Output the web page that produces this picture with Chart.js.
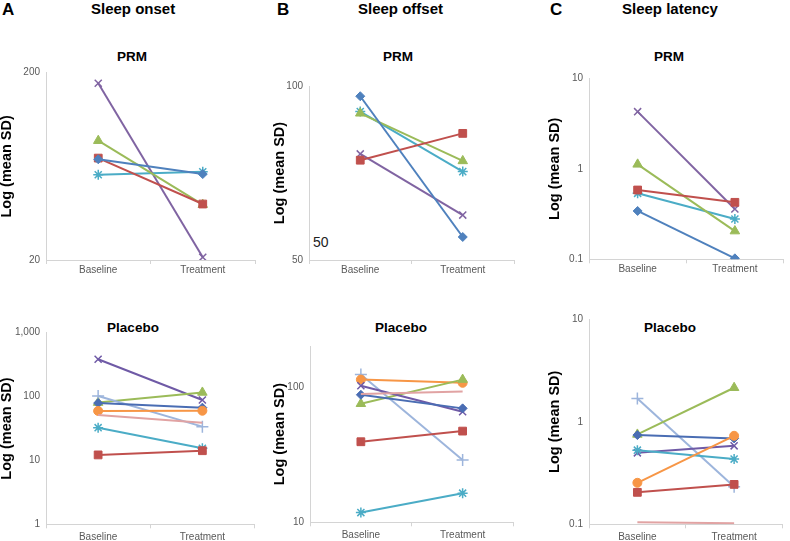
<!DOCTYPE html>
<html>
<head>
<meta charset="utf-8">
<script src="https://cdn.jsdelivr.net/npm/chart.js@4/dist/chart.umd.min.js"></script>
<style>
  html, body { margin: 0; padding: 0; background: #fff; }
  body { width: 790px; height: 541px; position: relative; overflow: hidden;
         font-family: "Liberation Sans", Arial, sans-serif; }
  canvas { position: absolute; }
  .t { position: absolute; white-space: nowrap; color: #000; font-weight: bold; line-height: 1; }
  .h { font-size: 15px; }
  .letter { font-size: 17px; }
  .sub { font-size: 13.5px; transform: translateX(-50%); }
  .stray { position: absolute; font-size: 14px; color: #222; line-height: 1; }
</style>
</head>
<body>
<div class="t letter" style="left:2px;top:1px;">A</div>
<div class="t h" style="left:91px;top:1px;">Sleep onset</div>
<div class="t letter" style="left:277px;top:1px;">B</div>
<div class="t h" style="left:358px;top:1px;">Sleep offset</div>
<div class="t letter" style="left:550px;top:1px;">C</div>
<div class="t h" style="left:622px;top:1px;">Sleep latency</div>

<div class="t sub" style="left:132px;top:50px;">PRM</div>
<div class="t sub" style="left:398px;top:50px;">PRM</div>
<div class="t sub" style="left:669px;top:50px;">PRM</div>
<div class="t sub" style="left:133px;top:321px;">Placebo</div>
<div class="t sub" style="left:401px;top:321px;">Placebo</div>
<div class="t sub" style="left:670px;top:321px;">Placebo</div>
<div class="stray" style="left:313px;top:235px;">50</div>

<canvas id="cA1" width="262" height="222" style="left:0px;top:60px;"></canvas>
<canvas id="cB1" width="250" height="222" style="left:271px;top:60px;"></canvas>
<canvas id="cC1" width="242" height="222" style="left:548px;top:60px;"></canvas>
<canvas id="cA2" width="262" height="241" style="left:0px;top:300px;"></canvas>
<canvas id="cB2" width="250" height="241" style="left:271px;top:300px;"></canvas>
<canvas id="cC2" width="242" height="241" style="left:548px;top:300px;"></canvas>

<script>
// ---------- DATA ----------
const categories = ['Baseline', 'Treatment'];

// Tick labels per panel
const onsetPRMTicks = [20, 200];
const offsetPRMTicks = [50, 100];
const latencyPRMTicks = [0.1, 1, 10];
const onsetPlaceboTicks = [1, 10, 100, 1000];
const offsetPlaceboTicks = [10, 100];
const latencyPlaceboTicks = [0.1, 1, 10];

// A: Sleep onset, PRM
const onsetPRM_diamond  = [69, 57.5];
const onsetPRM_square   = [70, 39.8];
const onsetPRM_triangle = [86.7, 39.5];
const onsetPRM_x        = [175.6, 20.7];
const onsetPRM_star     = [57, 59.2];

// B: Sleep offset, PRM
const offsetPRM_diamond  = [96, 54.8];
const offsetPRM_square   = [74.4, 82.8];
const offsetPRM_triangle = [89.7, 74.2];
const offsetPRM_x        = [76.3, 59.8];
const offsetPRM_star     = [90.3, 71.1];

// C: Sleep latency, PRM
const latencyPRM_diamond  = [0.342, 0.1025];
const latencyPRM_square   = [0.583, 0.426];
const latencyPRM_triangle = [1.12, 0.205];
const latencyPRM_x        = [4.28, 0.36];
const latencyPRM_star     = [0.536, 0.279];

// A: Sleep onset, Placebo
const onsetPlacebo_diamond  = [79, 67];
const onsetPlacebo_square   = [12.2, 14.2];
const onsetPlacebo_triangle = [80.4, 116];
const onsetPlacebo_x        = [384, 88.5];
const onsetPlacebo_star     = [32.6, 15.5];
const onsetPlacebo_circle   = [59.6, 60];
const onsetPlacebo_plus     = [102, 33.8];
const onsetPlacebo_line     = [51.5, 39];

// B: Sleep offset, Placebo
const offsetPlacebo_diamond  = [87.3, 69.3];
const offsetPlacebo_square   = [39.3, 47.1];
const offsetPlacebo_triangle = [75, 113];
const offsetPlacebo_x        = [101.7, 65.5];
const offsetPlacebo_star     = [11.8, 16.4];
const offsetPlacebo_circle   = [113, 107];
const offsetPlacebo_plus     = [123, 28.8];
const offsetPlacebo_line     = [88.3, 92.5];

// C: Sleep latency, Placebo
const latencyPlacebo_diamond  = [0.742, 0.689];
const latencyPlacebo_square   = [0.205, 0.245];
const latencyPlacebo_triangle = [0.753, 2.15];
const latencyPlacebo_x        = [0.498, 0.583];
const latencyPlacebo_star     = [0.529, 0.433];
const latencyPlacebo_circle   = [0.254, 0.73];
const latencyPlacebo_plus     = [1.69, 0.232];
const latencyPlacebo_line     = [0.1046, 0.1023];

// ---------- STYLES ----------
const styles = {
  diamondPRM: { color: '#4F81BD', pointStyle: 'rectRot', radius: 4.5, bw: 1 },
  diamond:    { color: '#4A6DB3', pointStyle: 'rectRot', radius: 4.5, bw: 1 },
  square:     { color: '#C0504D', pointStyle: 'rect', radius: 5.5, bw: 1 },
  triangle:   { color: '#9BBB59', pointStyle: 'triangle', radius: 5.5, bw: 1 },
  xPRM:       { color: '#8064A2', pointStyle: 'crossRot', radius: 5, bw: 1.5 },
  x:          { color: '#6F5AA6', pointStyle: 'crossRot', radius: 5, bw: 1.5 },
  star:       { color: '#4BACC6', pointStyle: 'star', radius: 5, bw: 1.5 },
  circle:     { color: '#F79646', pointStyle: 'circle', radius: 4.5, bw: 1 },
  plus:       { color: '#9DB5DC', pointStyle: 'cross', radius: 6, bw: 1.5 },
  line:       { color: '#E1A3A3', pointStyle: 'circle', radius: 0, bw: 0 }
};

function ds(values, st) {
  const s = styles[st];
  return {
    data: values,
    borderColor: s.color,
    backgroundColor: s.color,
    borderWidth: 2,
    pointStyle: s.pointStyle,
    pointRadius: s.radius,
    pointBorderWidth: s.bw,
    pointBorderColor: s.color,
    pointBackgroundColor: s.color,
    tension: 0
  };
}

const axisColor = '#d4d4d4';
const tickColor = '#595959';

function makeChart(id, datasets, ticksArr, min, max, geo) {
  new Chart(document.getElementById(id), {
    type: 'line',
    data: { labels: categories, datasets: datasets },
    options: {
      responsive: false,
      animation: false,
      devicePixelRatio: 1,
      layout: { padding: { left: 0, top: geo.padTop, right: geo.padRight, bottom: 0 } },
      plugins: { legend: { display: false }, tooltip: { enabled: false }, title: { display: false } },
      scales: {
        x: {
          type: 'category',
          offset: true,
          grid: { offset: true, drawOnChartArea: false, drawTicks: true, tickLength: 4, color: axisColor },
          border: { display: true, color: axisColor, width: 1 },
          ticks: { color: tickColor, font: { family: 'Liberation Sans', size: 10 }, padding: geo.xPad, maxRotation: 0 },
          afterFit: s => { s.height = geo.xH; }
        },
        y: {
          type: 'logarithmic',
          min: min, max: max,
          grid: { display: false, drawTicks: false },
          border: { display: true, color: axisColor, width: 1 },
          ticks: {
            color: tickColor, font: { family: 'Liberation Sans', size: 10 }, padding: 6,
            callback: v => Number(v).toLocaleString('en-US')
          },
          afterBuildTicks: s => { s.ticks = ticksArr.map(v => ({ value: v })); },
          title: {
            display: true, text: 'Log (mean SD)', color: '#000',
            font: { family: 'Liberation Sans', size: 14.5, weight: 'bold', lineHeight: 1 },
            padding: { top: geo.tPad, bottom: 0 }
          },
          afterFit: s => { s.width = geo.yW; }
        }
      }
    }
  });
}

makeChart('cA1', [
  ds(onsetPRM_diamond, 'diamondPRM'), ds(onsetPRM_square, 'square'), ds(onsetPRM_triangle, 'triangle'),
  ds(onsetPRM_x, 'xPRM'), ds(onsetPRM_star, 'star')
], onsetPRMTicks, 20, 200, { padTop: 12.7, padRight: 7, yW: 46, xH: 22, xPad: 0, tPad: 0 });

makeChart('cB1', [
  ds(offsetPRM_diamond, 'diamondPRM'), ds(offsetPRM_square, 'square'), ds(offsetPRM_triangle, 'triangle'),
  ds(offsetPRM_x, 'xPRM'), ds(offsetPRM_star, 'star')
], offsetPRMTicks, 50, 100, { padTop: 26, padRight: 7, yW: 38, xH: 22, xPad: 0, tPad: 1.5 });

makeChart('cC1', [
  ds(latencyPRM_diamond, 'diamondPRM'), ds(latencyPRM_square, 'square'), ds(latencyPRM_triangle, 'triangle'),
  ds(latencyPRM_x, 'xPRM'), ds(latencyPRM_star, 'star')
], latencyPRMTicks, 0.1, 10, { padTop: 18.3, padRight: 1, yW: 41, xH: 22.7, xPad: 0, tPad: 0 });

makeChart('cA2', [
  ds(onsetPlacebo_line, 'line'), ds(onsetPlacebo_square, 'square'), ds(onsetPlacebo_star, 'star'),
  ds(onsetPlacebo_circle, 'circle'), ds(onsetPlacebo_diamond, 'diamond'), ds(onsetPlacebo_plus, 'plus'),
  ds(onsetPlacebo_triangle, 'triangle'), ds(onsetPlacebo_x, 'x')
], onsetPlaceboTicks, 1, 1000, { padTop: 32.7, padRight: 7, yW: 46, xH: 16.7, xPad: 3, tPad: 0 });

makeChart('cB2', [
  ds(offsetPlacebo_line, 'line'), ds(offsetPlacebo_square, 'square'), ds(offsetPlacebo_star, 'star'),
  ds(offsetPlacebo_diamond, 'diamond'), ds(offsetPlacebo_x, 'x'), ds(offsetPlacebo_triangle, 'triangle'),
  ds(offsetPlacebo_circle, 'circle'), ds(offsetPlacebo_plus, 'plus')
], offsetPlaceboTicks, 10, 200, { padTop: 46, padRight: 7, yW: 39, xH: 18.7, xPad: 3, tPad: 1.5 });

makeChart('cC2', [
  ds(latencyPlacebo_line, 'line'), ds(latencyPlacebo_square, 'square'), ds(latencyPlacebo_circle, 'circle'),
  ds(latencyPlacebo_star, 'star'), ds(latencyPlacebo_x, 'x'), ds(latencyPlacebo_diamond, 'diamond'),
  ds(latencyPlacebo_triangle, 'triangle'), ds(latencyPlacebo_plus, 'plus')
], latencyPlaceboTicks, 0.1, 10, { padTop: 19.3, padRight: 1, yW: 41, xH: 16.7, xPad: 3, tPad: 0 });
</script>
</body>
</html>
